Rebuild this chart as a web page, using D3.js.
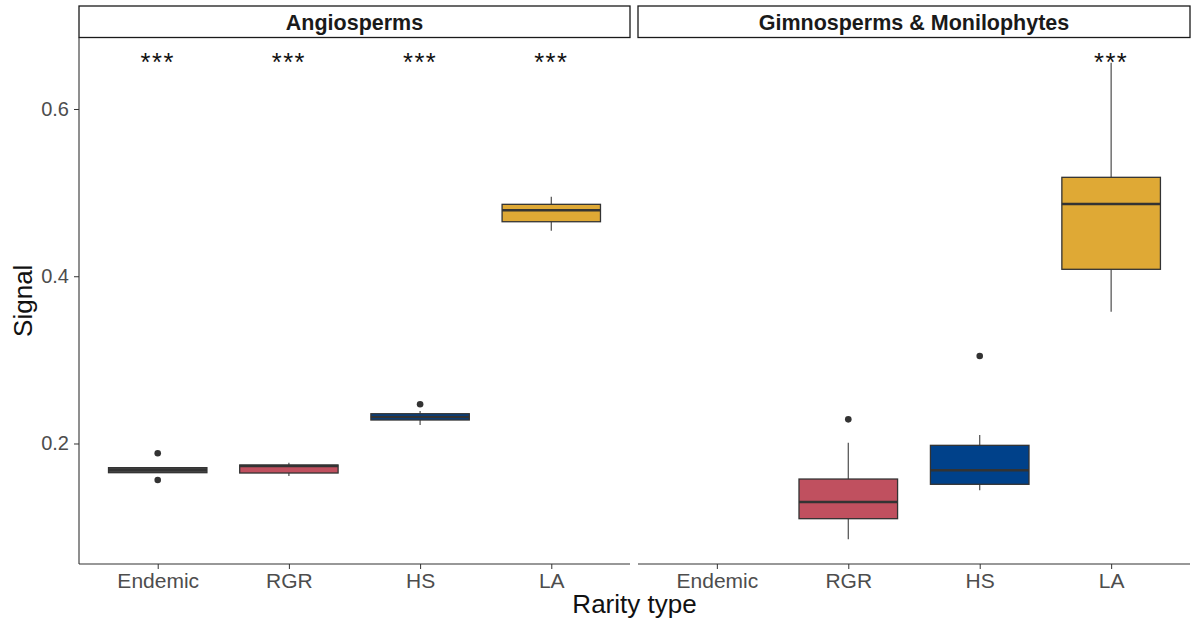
<!DOCTYPE html>
<html>
<head>
<meta charset="utf-8">
<script src="https://cdn.jsdelivr.net/npm/d3@7"></script>
<style>
  html, body { margin: 0; padding: 0; background: #fff; }
  svg { display: block; font-family: "Liberation Sans", Arial, sans-serif; }
</style>
</head>
<body>
<svg id="chart" width="1192" height="622"></svg>
<script>
// Rarity types on the x axis and the two facet panels
const categories = ["Endemic", "RGR", "HS", "LA"];
const panels = ["Angiosperms", "Gimnosperms & Monilophytes"];
const colors = ["#4a4a4a", "#c0505f", "#00418a", "#dfa935"];

// Box-plot summaries per panel (whisker low, Q1, median, Q3, whisker high)
const angioLow    = [0.1651, 0.1611, 0.2221, 0.4545];
const angioQ1     = [0.1651, 0.1647, 0.2281, 0.4652];
const angioMedian = [0.1683, 0.1731, 0.2317, 0.4789];
const angioQ3     = [0.1711, 0.1743, 0.2356, 0.4860];
const angioHigh   = [0.1711, 0.1770, 0.2389, 0.4951];
const angioOutliers = [[0.1883, 0.1564], [], [0.2469], []];

const gimnoLow    = [null, 0.0854, 0.1440, 0.3576];
const gimnoQ1     = [null, 0.1101, 0.1512, 0.4083];
const gimnoMedian = [null, 0.1300, 0.1680, 0.4864];
const gimnoQ3     = [null, 0.1575, 0.1978, 0.5183];
const gimnoHigh   = [null, 0.2010, 0.2102, 0.6554];
const gimnoOutliers = [[], [0.2289], [0.3046], []];

// Significance labels above each group
const angioStars = ["***", "***", "***", "***"];
const gimnoStars = ["", "", "", "***"];
const starLevel = 0.662;

const yTicks = [0.2, 0.4, 0.6];

function buildPanel(low, q1, med, q3, high, outliers, stars) {
  return categories.map((c, i) => ({
    cat: c, color: colors[i],
    low: low[i], q1: q1[i], med: med[i], q3: q3[i], high: high[i],
    outliers: outliers[i], star: stars[i]
  }));
}
const panelData = [
  buildPanel(angioLow, angioQ1, angioMedian, angioQ3, angioHigh, angioOutliers, angioStars),
  buildPanel(gimnoLow, gimnoQ1, gimnoMedian, gimnoQ3, gimnoHigh, gimnoOutliers, gimnoStars)
];

const svg = d3.select("#chart");
const plotTop = 37.5, plotBottom = 564;
const panelX = [[79, 630], [638, 1190]];
const stripTop = 6;

const y = d3.scaleLinear().domain([0.0559, 0.6855]).range([plotBottom, plotTop]);

panelData.forEach((data, p) => {
  const [x0, x1] = panelX[p];
  // discrete axis: 0.6 category-widths of padding on each side
  const x = d3.scalePoint().domain(categories).range([x0, x1]).padding(0.6);
  const step = x.step();
  const boxW = step * 0.75;
  const g = svg.append("g");

  // strip
  g.append("rect")
    .attr("x", x0).attr("y", stripTop)
    .attr("width", x1 - x0).attr("height", plotTop - stripTop)
    .attr("fill", "#fff").attr("stroke", "#1a1a1a").attr("stroke-width", 1.3);
  g.append("text")
    .attr("x", (x0 + x1) / 2).attr("y", 30)
    .attr("text-anchor", "middle").attr("font-weight", "bold")
    .attr("font-size", 21.5).attr("fill", "#1a1a1a")
    .text(panels[p]);

  // bottom axis
  const xAxis = g.append("g").attr("transform", `translate(0,${plotBottom})`)
    .call(d3.axisBottom(x).tickSize(5).tickSizeOuter(0).tickPadding(4));
  xAxis.select(".domain").attr("stroke", "#333").attr("stroke-width", 1.1)
    .attr("d", `M${x0},0H${x1}`);
  xAxis.selectAll(".tick line").attr("stroke", "#333");
  xAxis.selectAll(".tick text").attr("font-size", 21).attr("fill", "#4d4d4d")
    .attr("font-family", "Liberation Sans, Arial, sans-serif");

  if (p === 0) {
    const yAxis = g.append("g").attr("transform", `translate(${x0},0)`)
      .call(d3.axisLeft(y).tickValues(yTicks).tickFormat(d3.format(".1f"))
        .tickSize(5).tickSizeOuter(0).tickPadding(5));
    yAxis.select(".domain").attr("stroke", "#333").attr("stroke-width", 1.1)
      .attr("d", `M0,${plotTop}V${plotBottom}`);
    yAxis.selectAll(".tick line").attr("stroke", "#333");
    yAxis.selectAll(".tick text").attr("font-size", 20).attr("fill", "#4d4d4d")
      .attr("font-family", "Liberation Sans, Arial, sans-serif");
  }

  const boxes = data.filter(d => d.q1 != null);
  const bg = g.selectAll("g.box").data(boxes).join("g").attr("class", "box");

  // whiskers
  bg.append("line")
    .attr("x1", d => x(d.cat)).attr("x2", d => x(d.cat))
    .attr("y1", d => y(d.high)).attr("y2", d => y(d.q3))
    .attr("stroke", "#4d4d4d").attr("stroke-width", 1.2);
  bg.append("line")
    .attr("x1", d => x(d.cat)).attr("x2", d => x(d.cat))
    .attr("y1", d => y(d.q1)).attr("y2", d => y(d.low))
    .attr("stroke", "#4d4d4d").attr("stroke-width", 1.2);

  // box body
  bg.append("rect")
    .attr("x", d => x(d.cat) - boxW / 2).attr("width", boxW)
    .attr("y", d => y(d.q3)).attr("height", d => y(d.q1) - y(d.q3))
    .attr("fill", d => d.color).attr("stroke", "#333").attr("stroke-width", 1.3);

  // median
  bg.append("line")
    .attr("x1", d => x(d.cat) - boxW / 2).attr("x2", d => x(d.cat) + boxW / 2)
    .attr("y1", d => y(d.med)).attr("y2", d => y(d.med))
    .attr("stroke", "#333").attr("stroke-width", 2.6);

  // outliers
  data.forEach(d => {
    g.selectAll(null).data(d.outliers).join("circle")
      .attr("cx", x(d.cat)).attr("cy", v => y(v)).attr("r", 3.3)
      .attr("fill", "#333");
  });

  // significance stars
  g.selectAll("text.star").data(data.filter(d => d.star)).join("text")
    .attr("class", "star")
    .attr("x", d => x(d.cat)).attr("y", y(starLevel) + 14)
    .attr("text-anchor", "middle").attr("font-size", 25.5)
    .attr("letter-spacing", 1.5).attr("fill", "#111")
    .text(d => d.star);
});

// axis titles
svg.append("text")
  .attr("x", (79 + 1190) / 2).attr("y", 613)
  .attr("text-anchor", "middle").attr("font-size", 26).attr("fill", "#111")
  .text("Rarity type");
svg.append("text")
  .attr("transform", `translate(32,${(plotTop + plotBottom) / 2}) rotate(-90)`)
  .attr("text-anchor", "middle").attr("font-size", 26).attr("fill", "#111")
  .text("Signal");
</script>
</body>
</html>
